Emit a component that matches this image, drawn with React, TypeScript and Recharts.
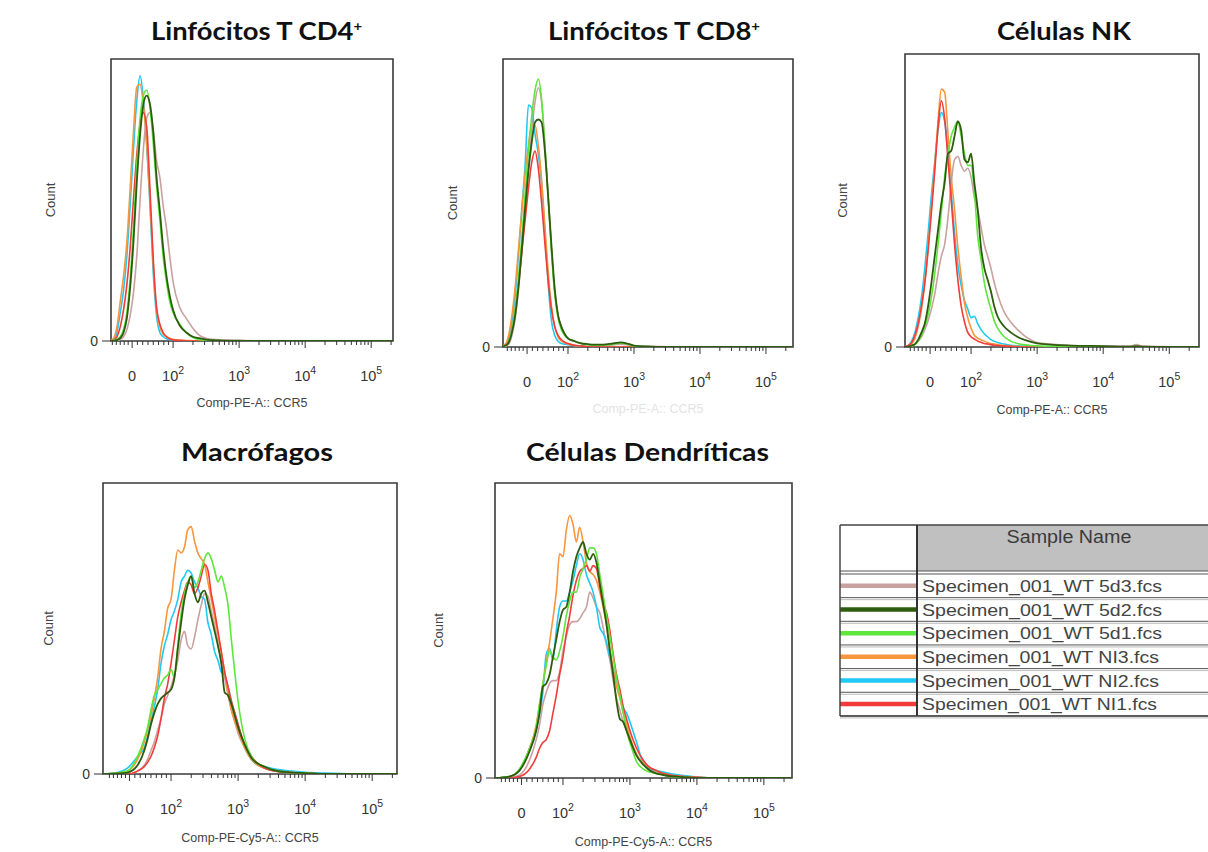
import React from 'react';
import { LineChart, Line, XAxis, YAxis, ReferenceArea } from 'recharts';

// x values are positions on the biexponential CCR5 axis, in decades: 2 = 10^2, 3 = 10^3 ...
// y values are % of the plot height (normalised count)

const GRID_A = [0.98, 1.05, 1.1, 1.15, 1.2, 1.25, 1.3, 1.35, 1.4, 1.45, 1.5, 1.55, 1.6, 1.65, 1.7, 1.75, 1.8, 1.85, 1.9, 1.95, 2.0, 2.1, 2.2, 2.3, 2.4, 2.5, 2.6, 2.7, 2.8, 2.9, 3.0, 3.2, 3.5, 4.0, 4.5, 5.0, 5.45];
const GRID_B = [0.98, 1.05, 1.1, 1.15, 1.2, 1.25, 1.3, 1.35, 1.4, 1.45, 1.5, 1.55, 1.6, 1.65, 1.7, 1.75, 1.8, 1.85, 1.9, 1.95, 2.0, 2.05, 2.1, 2.15, 2.2, 2.25, 2.3, 2.35, 2.4, 2.5, 2.6, 2.7, 2.8, 2.9, 3.0, 3.2, 3.5, 4.0, 4.4, 4.5, 4.6, 5.0, 5.45];
const GRID_C = [0.98, 1.2, 1.35, 1.5, 1.6, 1.65, 1.7, 1.75, 1.8, 1.85, 1.9, 1.95, 2.0, 2.05, 2.1, 2.15, 2.2, 2.25, 2.3, 2.35, 2.4, 2.45, 2.5, 2.55, 2.6, 2.65, 2.7, 2.75, 2.8, 2.85, 2.9, 2.95, 3.0, 3.1, 3.2, 3.3, 3.4, 3.5, 3.6, 3.8, 4.0, 4.3, 5.0, 5.45];

// Linfocitos T CD4+
const CD4_5D3 = [0, 0, 0, 0.2, 0.5, 1.5, 4, 9, 17, 30, 50, 68, 79, 81, 75, 64, 58, 48, 40, 30, 21, 12, 8, 4.5, 2, 1, 0.6, 0.4, 0.3, 0.2, 0.2, 0.1, 0.1, 0, 0, 0, 0];
const CD4_5D2 = [0, 0, 0, 0.3, 1, 3, 8, 19, 35, 56, 73, 84, 87, 84, 74, 58, 46, 33, 23, 16, 11, 5.5, 3, 1.5, 1, 0.5, 0.3, 0.2, 0.1, 0.1, 0.1, 0, 0, 0, 0, 0, 0];
const CD4_5D1 = [0, 0, 0.2, 0.6, 1.5, 4, 10, 22, 40, 62, 79, 87, 89, 83, 70, 55, 43, 30, 21, 14, 10, 6, 3, 1.2, 0.5, 0.3, 0.2, 0.1, 0.1, 0, 0, 0, 0, 0, 0, 0, 0];
const CD4_NI3 = [0, 0.2, 1, 5, 14, 23, 35, 54, 74, 90, 91, 84, 70, 50, 27, 11, 5, 2.5, 1.5, 1, 0.6, 0.3, 0.2, 0.1, 0, 0, 0, 0, 0, 0, 0, 0, 0, 0, 0, 0, 0];
const CD4_NI2 = [0, 0, 0.5, 3, 10, 18, 30, 48, 68, 85, 94, 86, 70, 48, 24, 9, 3, 1.5, 0.8, 0.5, 0.3, 0.1, 0, 0, 0, 0, 0, 0, 0, 0, 0, 0, 0, 0, 0, 0, 0];
const CD4_NI1 = [0, 0, 0.3, 1.5, 5, 11, 20, 33, 50, 66, 77, 81, 76, 54, 29, 12, 6, 3, 1.5, 0.8, 0.4, 0.2, 0, 0, 0, 0, 0, 0, 0, 0, 0, 0, 0, 0, 0, 0, 0];

// Linfocitos T CD8+
const CD8_5D3 = [0, 0.3, 1, 4, 10, 20, 33, 47, 62, 75, 85, 90, 85, 70, 52, 34, 19, 11, 7, 4.5, 3, 2, 1.2, 0.8, 0.6, 0.5, 0.6, 0.8, 1, 0.8, 0.4, 0.2, 0.1, 0, 0, 0, 0];
const CD8_5D2 = [0, 0.5, 1.5, 5, 11, 21, 34, 48, 61, 71, 78, 79, 78, 68, 52, 35, 20, 11, 7, 4.5, 3, 2, 1.3, 1, 0.8, 0.8, 1, 1.3, 1.6, 1.2, 0.5, 0.2, 0, 0, 0, 0, 0];
const CD8_5D1 = [0, 0.3, 2, 6, 13, 24, 38, 53, 68, 80, 89, 93, 86, 70, 52, 33, 18, 10, 6, 4, 3, 2, 1.2, 0.8, 0.6, 0.6, 0.8, 1, 1.4, 1, 0.4, 0.1, 0, 0, 0, 0, 0];
const CD8_NI3 = [0.2, 1, 4, 11, 21, 34, 47, 60, 70, 77, 77, 70, 58, 42, 26, 14, 7, 3.5, 2, 1.5, 1, 0.5, 0.3, 0.1, 0, 0, 0, 0, 0, 0, 0, 0, 0, 0, 0, 0, 0];
const CD8_NI2 = [0, 0.5, 3, 9, 18, 32, 48, 63, 84, 83, 74, 67, 57, 40, 22, 9, 4, 2, 1.2, 1, 0.8, 0.5, 0.3, 0.1, 0, 0, 0, 0, 0, 0, 0, 0, 0, 0, 0, 0, 0];
const CD8_NI1 = [0, 0.3, 2, 6, 13, 22, 33, 44, 55, 64, 68, 62, 50, 36, 23, 13, 7, 4, 2.5, 1.7, 1.2, 0.6, 0.3, 0.1, 0, 0, 0, 0, 0, 0, 0, 0, 0, 0, 0, 0, 0];

// Celulas NK
const NK_5D3 = [0, 0, 0.5, 1, 2, 3.5, 6, 9, 13, 18, 25, 31, 35, 44, 56, 64, 65, 62, 60, 61, 58, 51, 47, 41, 35, 31, 27, 22, 18, 12, 8.5, 6, 4, 2.5, 1.5, 1, 0.5, 0.3, 0.3, 0.8, 0.3, 0.1, 0];
const NK_5D2 = [0, 0, 0.5, 1, 2.5, 5, 8, 14, 22, 31, 40, 49, 56, 66, 67, 72, 77, 74, 64, 63, 66, 56, 47, 34, 27, 23, 19, 14, 10.5, 7, 5, 3.5, 2.5, 1.8, 1.2, 0.8, 0.5, 0.3, 0.1, 0.3, 0.1, 0, 0];
const NK_5D1 = [0, 0, 0.3, 0.8, 2, 4, 7, 11, 17, 25, 35, 46, 58, 66, 72, 75, 77, 72, 66, 62, 62, 53, 38, 30, 22, 17, 13, 9, 6.5, 3.5, 2, 1.2, 0.8, 0.5, 0.4, 0.2, 0.1, 0, 0, 0, 0, 0, 0];
const NK_NI3 = [0, 0.3, 1, 3, 7, 13, 22, 34, 48, 62, 77, 88, 87, 73, 58, 47, 34, 24, 15, 10, 6.4, 4, 3, 2.5, 2, 1.5, 1.2, 1, 0.8, 0.5, 0.3, 0.2, 0.1, 0, 0, 0, 0, 0, 0, 0, 0, 0, 0];
const NK_NI2 = [0, 0.5, 2, 5, 10, 17, 27, 39, 52, 63, 74, 80, 77, 67, 53, 39, 28, 21, 16, 13, 10, 10.5, 8, 6, 4.5, 3.5, 2.5, 2, 1.5, 1, 0.6, 0.4, 0.3, 0.2, 0.1, 0, 0, 0, 0, 0, 0, 0, 0];
const NK_NI1 = [0, 0.5, 1.5, 4, 8, 14, 22, 33, 46, 60, 75, 84, 78, 64, 50, 35, 23, 14, 8.6, 5, 3.5, 2.7, 2, 1.6, 1.2, 1, 0.8, 0.6, 0.5, 0.3, 0.2, 0, 0, 0, 0, 0, 0, 0, 0, 0, 0, 0, 0];

// Macrofagos
const MAC_5D3 = [0, 0, 0, 1, 3, 5, 8, 11, 15, 19, 24, 27, 30, 34, 39, 46, 49, 44, 43, 47, 53, 58, 62, 61, 56, 51, 45, 38, 33, 27, 22, 18, 14, 9, 5, 3, 2, 1.3, 0.8, 0.4, 0.2, 0, 0, 0];
const MAC_5D2 = [0, 0.2, 0.5, 3, 8, 12, 17, 21, 24, 26, 27, 28, 29, 33, 43, 52, 60, 65, 68, 62, 59, 62, 63, 59, 54, 49, 44, 38, 28, 27, 24, 20, 16, 10, 5.5, 3.5, 2.5, 1.5, 1, 0.5, 0.3, 0, 0, 0];
const MAC_5D1 = [0, 0.3, 1, 6, 12, 16, 22, 27, 29, 31, 33, 34, 36, 33, 44, 55, 62, 66, 68, 64, 66, 70, 74, 76, 74, 70, 66, 68, 64, 58, 46, 35, 25, 12, 6, 3.5, 2.5, 1.5, 1, 0.5, 0.3, 0, 0, 0];
const MAC_NI3 = [0, 0.3, 1, 5, 11, 15, 20, 26, 33, 43, 49, 57, 60, 70, 77, 76, 78, 84, 85, 80, 76, 74, 72, 66, 60, 54, 48, 42, 35, 28, 22, 18, 15, 9, 5, 3, 2, 1.5, 1, 0.6, 0.3, 0, 0, 0];
const MAC_NI2 = [0, 0.5, 2, 6, 9, 13, 18, 23, 29, 38, 44, 48, 53, 56, 60, 66, 68, 70, 69, 66, 64, 61, 60, 52, 48, 42, 39, 35, 34, 30, 25, 21, 17, 9, 5, 3, 2.5, 2, 1.5, 1, 0.6, 0.3, 0, 0];
const MAC_NI1 = [0, 0, 0, 1, 2.5, 4, 6, 9, 13, 19, 26, 31, 38, 46, 54, 59, 63, 66, 65, 62, 64, 68, 72, 70, 62, 56, 49, 42, 35, 30, 25, 21, 17, 10, 6, 3.5, 2, 1.2, 0.8, 0.5, 0.3, 0, 0, 0];

// Celulas Dendriticas
const DC_5D3 = [0, 0, 1, 6, 13, 18, 25, 29, 32, 33, 33, 36, 43, 48, 52, 53, 53, 54, 56, 58, 63, 61, 58, 56, 51, 45, 40, 33, 27, 23, 19, 16, 13, 8, 4.5, 2.8, 2, 1.2, 0.8, 0.4, 0, 0, 0, 0];
const DC_5D2 = [0, 0.5, 2.5, 9, 16, 22, 31, 32, 35, 41, 47, 53, 57, 58, 63, 70, 75, 78, 80, 76, 74, 76, 73, 66, 59, 52, 43, 35, 26, 20, 19, 16, 13, 7.5, 4.5, 2.5, 1.5, 1, 0.6, 0.3, 0, 0, 0, 0];
const DC_5D1 = [0, 0.5, 3, 10, 17, 25, 32, 38, 43, 41, 40, 43, 48, 55, 60, 63, 63, 68, 71, 74, 78, 78, 76, 69, 62, 55, 48, 41, 34, 28, 22, 16, 12, 5.5, 3, 2, 1.5, 1, 0.5, 0.3, 0, 0, 0, 0];
const DC_NI3 = [0, 0.5, 3, 10, 18, 25, 32, 39, 46, 54, 63, 76, 75, 84, 89, 86, 80, 85, 80, 73, 70, 69, 67, 63, 58, 52, 44, 37, 31, 27, 22, 18, 14, 8, 5, 3.5, 2.5, 1.5, 1, 0.5, 0.2, 0, 0, 0];
const DC_NI2 = [0, 0.5, 2.5, 10, 16, 22, 29, 42, 44, 40, 50, 58, 60, 60, 63, 67, 72, 76, 74, 69, 66, 63, 58, 51, 49, 46, 41, 37, 33, 29, 24, 22, 19, 12, 5, 3.2, 2.5, 2, 1.5, 0.8, 0.3, 0, 0, 0];
const DC_NI1 = [0, 0, 0.5, 3, 7, 10, 12, 13, 16, 22, 28, 35, 41, 49, 55, 62, 67, 70, 71, 72, 70, 72, 71, 65, 59, 56, 50, 42, 35, 30, 24, 20, 16, 10, 6, 3.5, 2.5, 1.5, 1, 0.5, 0.2, 0, 0, 0];

const SERIES = [
  { key: 'd3', name: 'Specimen_001_WT 5d3.fcs', color: '#c9a29f' },
  { key: 'd2', name: 'Specimen_001_WT 5d2.fcs', color: '#2d5c0e' },
  { key: 'd1', name: 'Specimen_001_WT 5d1.fcs', color: '#5ee63c' },
  { key: 'ni3', name: 'Specimen_001_WT NI3.fcs', color: '#f7963c' },
  { key: 'ni2', name: 'Specimen_001_WT NI2.fcs', color: '#22c8f4' },
  { key: 'ni1', name: 'Specimen_001_WT NI1.fcs', color: '#f23b3b' },
];
const DRAW_ORDER = ['d3', 'ni2', 'ni3', 'ni1', 'd1', 'd2'];

const PANELS = [
  { title: 'Linfócitos T CD4', sup: '+', xTitle: 'Comp-PE-A:: CCR5', grid: GRID_A,
    values: { d3: CD4_5D3, d2: CD4_5D2, d1: CD4_5D1, ni3: CD4_NI3, ni2: CD4_NI2, ni1: CD4_NI1 } },
  { title: 'Linfócitos T CD8', sup: '+', xTitle: 'Comp-PE-A:: CCR5', grid: GRID_A,
    values: { d3: CD8_5D3, d2: CD8_5D2, d1: CD8_5D1, ni3: CD8_NI3, ni2: CD8_NI2, ni1: CD8_NI1 } },
  { title: 'Células NK', sup: '', xTitle: 'Comp-PE-A:: CCR5', grid: GRID_B,
    values: { d3: NK_5D3, d2: NK_5D2, d1: NK_5D1, ni3: NK_NI3, ni2: NK_NI2, ni1: NK_NI1 } },
  { title: 'Macrófagos', sup: '', xTitle: 'Comp-PE-Cy5-A:: CCR5', grid: GRID_C,
    values: { d3: MAC_5D3, d2: MAC_5D2, d1: MAC_5D1, ni3: MAC_NI3, ni2: MAC_NI2, ni1: MAC_NI1 } },
  { title: 'Células Dendríticas', sup: '', xTitle: 'Comp-PE-Cy5-A:: CCR5', grid: GRID_C,
    values: { d3: DC_5D3, d2: DC_5D2, d1: DC_5D1, ni3: DC_NI3, ni2: DC_NI2, ni1: DC_NI1 } },
];

// placement of each panel on the page
const LAYOUT = [
  { box: { x: 111, y: 59, w: 282, h: 282 }, domain: [1.06, 5.33], countGap: 61, xTitleGap: 62, xTitleColor: '#444', titleX: 256.5, titleY: 40, titleW: 211 },
  { box: { x: 503, y: 59, w: 290, h: 288 }, domain: [1.015, 5.41], countGap: 51, xTitleGap: 62, xTitleColor: '#e3e3e3', titleX: 654, titleY: 40, titleW: 212 },
  { box: { x: 905, y: 54, w: 294, h: 293 }, domain: [1.0, 5.45], countGap: 63, xTitleGap: 63, xTitleColor: '#444', titleX: 1064, titleY: 40, titleW: 134 },
  { box: { x: 103, y: 483, w: 294, h: 291 }, domain: [0.985, 5.37], countGap: 55, xTitleGap: 64, xTitleColor: '#444', titleX: 257, titleY: 461, titleW: 152 },
  { box: { x: 495, y: 483, w: 297, h: 295 }, domain: [0.985, 5.42], countGap: 57, xTitleGap: 64, xTitleColor: '#444', titleX: 647.5, titleY: 461, titleW: 243 },
];

const FONT = '"Liberation Sans", Arial, sans-serif';

const ZERO_TICK = 1.38;
const LINEAR_TICKS = [1.08, 1.14, 1.2, 1.26, 1.32, ZERO_TICK, 1.46, 1.54, 1.62, 1.7, 1.78, 1.86, 1.93];
const DECADE_TICKS = [2, 3, 4]
  .flatMap((d) => [1, 2, 3, 4, 5, 6, 7, 8, 9].map((k) => d + Math.log10(k)))
  .concat([5, 5 + Math.log10(2)]);
const MAJOR_TICKS = [
  { v: ZERO_TICK, base: '0', exp: '' },
  { v: 2, base: '10', exp: '2' },
  { v: 3, base: '10', exp: '3' },
  { v: 4, base: '10', exp: '4' },
  { v: 5, base: '10', exp: '5' },
];

function XTick(props: any) {
  const { x, y, payload } = props;
  const major = MAJOR_TICKS.find((t) => Math.abs(t.v - payload.value) < 1e-6);
  return (
    <g>
      <line x1={x} x2={x} y1={y} y2={y + (major ? 7 : 4)} stroke="#333" strokeWidth={1} />
      {major && (
        <text x={x} y={y + 40} textAnchor="middle" fontSize={14.5} fill="#333" fontFamily={FONT}>
          {major.base}
          {major.exp && <tspan dy={-7} fontSize={10.5}>{major.exp}</tspan>}
        </text>
      )}
    </g>
  );
}

function Panel({ panel, layout }: { panel: any; layout: any }) {
  const { box, domain, countGap, xTitleGap, xTitleColor } = layout;
  const yW = countGap * 2;
  const xH = xTitleGap * 2;
  const m = { top: 6, right: 6, bottom: 4, left: 6 };
  const rows = panel.grid.map((u: number, i: number) => {
    const row: any = { u };
    SERIES.forEach((s) => { row[s.key] = panel.values[s.key][i]; });
    return row;
  });
  const ticks = LINEAR_TICKS.concat(DECADE_TICKS).filter((t) => t > domain[0] && t < domain[1]);

  return (
    <div style={{ position: 'absolute', left: box.x - yW - m.left, top: box.y - m.top }}>
      <LineChart
        width={m.left + yW + box.w + m.right}
        height={m.top + box.h + xH + m.bottom}
        data={rows}
        margin={m}
      >
        <XAxis
          type="number"
          dataKey="u"
          domain={domain}
          allowDataOverflow
          ticks={ticks}
          interval={0}
          tick={<XTick />}
          tickLine={false}
          axisLine={false}
          tickSize={0}
          tickMargin={0}
          height={xH}
          label={{ value: panel.xTitle, position: 'center', fill: xTitleColor, fontSize: 12.5, fontFamily: FONT }}
        />
        <YAxis
          type="number"
          domain={[0, 100]}
          allowDataOverflow
          ticks={[0]}
          width={yW}
          tickSize={9}
          tickMargin={4}
          axisLine={false}
          tickLine={{ stroke: '#333' }}
          tick={{ fontSize: 14, fill: '#333', fontFamily: FONT }}
          label={{ value: 'Count', angle: -90, position: 'center', fill: '#444', fontSize: 13, fontFamily: FONT }}
        />
        <ReferenceArea x1={domain[0]} x2={domain[1]} y1={0} y2={100} fill="none" stroke="#3a3a3a" strokeWidth={1.6} ifOverflow="visible" />
        {DRAW_ORDER.map((k) => {
          const s = SERIES.find((ss) => ss.key === k)!;
          return (
            <Line
              key={k}
              type="monotone"
              dataKey={k}
              stroke={s.color}
              strokeWidth={k === 'd2' ? 1.8 : 1.6}
              dot={false}
              activeDot={false}
              isAnimationActive={false}
            />
          );
        })}
      </LineChart>
    </div>
  );
}

const TABLE = { left: 840, top: 525, split: 917, right: 1212, headerBottom: 571, rowTop: 574, rowH: 23.65 };
const ROW_TEXT_W = [240, 240, 240, 237, 237, 235];

function Overlay() {
  const T = TABLE;
  const bottom = T.rowTop + SERIES.length * T.rowH;
  return (
    <svg width={1208} height={852} style={{ position: 'absolute', left: 0, top: 0, pointerEvents: 'none' }}>
      {PANELS.map((p, i) => {
        const l = LAYOUT[i];
        return (
          <text key={i} x={l.titleX - l.titleW / 2} y={l.titleY} textLength={l.titleW} lengthAdjust="spacingAndGlyphs"
            fontFamily="Lato, 'Open Sans', sans-serif" fontWeight={700} fontSize={24} fill="#111">
            {p.title}
            {p.sup && <tspan dy={-9} fontSize={13}>{p.sup}</tspan>}
          </text>
        );
      })}

      {/* sample table */}
      <rect x={T.split} y={T.top} width={T.right - T.split} height={T.headerBottom - T.top} fill="#c0c0c0" />
      <text x={1069} y={543} textAnchor="middle" fontFamily={FONT} fontSize={17.5} fill="#3a3a3a" textLength={125} lengthAdjust="spacingAndGlyphs">
        Sample Name
      </text>
      {SERIES.map((s, i) => {
        const top = T.rowTop + i * T.rowH;
        return (
          <g key={s.key}>
            <line x1={T.left} x2={T.split} y1={top + T.rowH / 2} y2={top + T.rowH / 2} stroke={s.color} strokeWidth={4.5} />
            <text x={922} y={top + 18} fontFamily={FONT} fontSize={17} fill="#444" textLength={ROW_TEXT_W[i]} lengthAdjust="spacingAndGlyphs">
              {s.name}
            </text>
            <line x1={T.left} x2={T.right} y1={top + T.rowH} y2={top + T.rowH} stroke="#555" strokeWidth={1} />
            <line x1={T.left} x2={T.right} y1={top + T.rowH + 2} y2={top + T.rowH + 2} stroke="#aaa" strokeWidth={0.8} />
          </g>
        );
      })}
      <line x1={T.left} x2={T.right} y1={T.headerBottom} y2={T.headerBottom} stroke="#555" strokeWidth={1} />
      <line x1={T.left} x2={T.right} y1={T.rowTop} y2={T.rowTop} stroke="#555" strokeWidth={1} />
      <line x1={T.left} x2={T.right} y1={T.top} y2={T.top} stroke="#444" strokeWidth={1.5} />
      <line x1={T.left} x2={T.left} y1={T.top} y2={bottom} stroke="#444" strokeWidth={1.5} />
      <line x1={T.split} x2={T.split} y1={T.top} y2={bottom} stroke="#333" strokeWidth={2} />
      <line x1={T.left} x2={T.right} y1={bottom} y2={bottom} stroke="#444" strokeWidth={1.5} />
    </svg>
  );
}

export default function App() {
  return (
    <div style={{ position: 'absolute', left: 0, top: 0, width: 1208, height: 852, background: '#fff', overflow: 'hidden' }}>
      {PANELS.map((p, i) => (
        <Panel key={i} panel={p} layout={LAYOUT[i]} />
      ))}
      <Overlay />
    </div>
  );
}
